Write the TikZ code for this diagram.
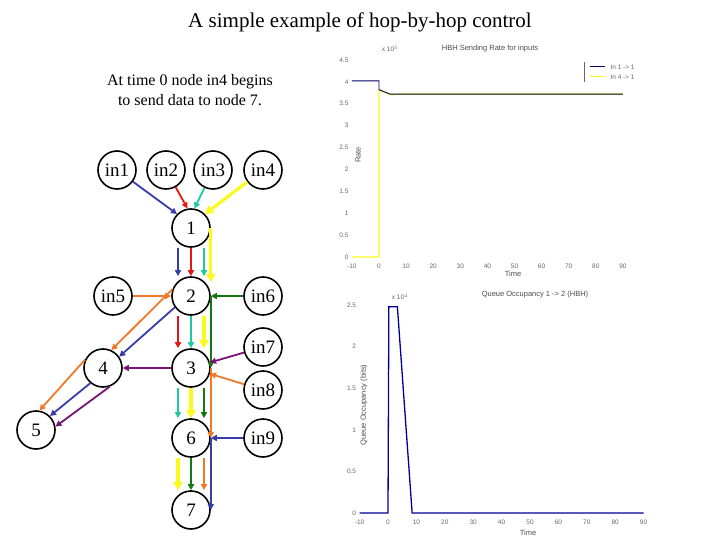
\documentclass[tikz,border=0pt]{standalone}
\usepackage{fontspec}
\setmainfont{Liberation Serif}
\setsansfont{Liberation Sans}
\usetikzlibrary{arrows.meta}
\begin{document}
\begin{tikzpicture}[x=1pt,y=-1pt,
nd/.style = {draw,circle,line width=1.6pt,minimum size=38pt,inner sep=0pt,font=\fontsize{19}{19}\selectfont},
edge/.style = {line width=1.8pt,-{Triangle[length=6pt,width=6pt]}},
fat/.style = {edge,line width=3.2pt,-{Triangle[length=8pt,width=9pt]}},
tick/.style = {font=\sffamily\fontsize{6.5}{6.5}\selectfont,text=black!60},
lbl/.style = {font=\sffamily\fontsize{7.5}{7.5}\selectfont,text=black!70}
]
\useasboundingbox (0,0) rectangle (720,540);
\definecolor{cblue}{RGB}{55,60,170}
\definecolor{cred}{RGB}{230,20,20}
\definecolor{cteal}{RGB}{30,200,160}
\definecolor{cyel}{RGB}{250,250,30}
\definecolor{corange}{RGB}{240,120,40}
\definecolor{cgreen}{RGB}{20,120,20}
\definecolor{cpurple}{RGB}{120,20,120}

\node[font=\fontsize{21}{21}\selectfont] (title) at (360,22) {A simple example of hop-by-hop control};
\node[font=\fontsize{16}{20}\selectfont,align=center] (note) at (190,90) {At time 0 node in4 begins\\to send data to node 7.};

\node[nd] (in1) at (117,170) {in1};
\node[nd] (in2) at (166,170) {in2};
\node[nd] (in3) at (213,170) {in3};
\node[nd] (in4) at (263,170) {in4};
\node[nd] (n1) at (191,228) {1};
\node[nd] (in5) at (113,296) {in5};
\node[nd] (n2) at (191,296) {2};
\node[nd] (in6) at (263,296) {in6};
\node[nd] (n4) at (103,368) {4};
\node[nd] (n3) at (191,368) {3};
\node[nd] (in7) at (263,347) {in7};
\node[nd] (in8) at (263,390) {in8};
\node[nd] (n5) at (36,430) {5};
\node[nd] (n6) at (191,438) {6};
\node[nd] (in9) at (263,438) {in9};
\node[nd] (n7) at (191,510) {7};

% inputs to 1
\draw[edge,cblue] (in1) -- (n1.135);
\draw[edge,cred] (in2) -- (n1.100);
\draw[edge,cteal] (in3) -- (n1.80);
\draw[fat,cyel] (in4) -- (n1.45);
% 1 to 2
\draw[edge,cblue] ([xshift=-13pt]n1.south) -- ([xshift=-13pt]n2.north);
\draw[edge,cred] (n1) -- (n2);
\draw[edge,cteal] ([xshift=13pt]n1.south) -- ([xshift=13pt]n2.north);
\draw[fat,cyel] (n1.east) -- (n1.east |- n2.north east);
% into 2
\draw[edge,corange] (in5) -- (n2);
\draw[edge,cgreen] (in6) -- (n2);
% 2 to 4
\draw[edge,corange] (n2.160) -- (n4.65);
\draw[edge,cblue] (n2.215) -- (n4.35);
% 2 to 3
\draw[edge,cred] ([xshift=-13pt]n2.south) -- ([xshift=-13pt]n3.north);
\draw[edge,cteal] (n2) -- (n3);
\draw[fat,cyel] ([xshift=13pt]n2.south) -- ([xshift=13pt]n3.north);
\draw[edge,cgreen] (n2.east) -- (n3.east);
% into 3
\draw[edge,cpurple] (in7) -- (n3);
\draw[edge,corange] (in8) -- (n3);
\draw[edge,cpurple] (n3) -- (n4);
% 3 to 6
\draw[edge,cteal] ([xshift=-13pt]n3.south) -- ([xshift=-13pt]n6.north);
\draw[fat,cyel] (n3) -- (n6);
\draw[edge,cgreen] ([xshift=13pt]n3.south) -- ([xshift=13pt]n6.north);
\draw[edge,corange] (n3.east) -- (n6.east);
\draw[edge,cblue] (in9) -- (n6);
% 6 to 7
\draw[fat,cyel] ([xshift=-13pt]n6.south) -- ([xshift=-13pt]n7.north);
\draw[edge,cgreen] (n6) -- (n7);
\draw[edge,corange] ([xshift=13pt]n6.south) -- ([xshift=13pt]n7.north);
\draw[edge,cblue] (n6.east) -- (n7.east);
% 4 to 5
\draw[edge,corange] (n4.155) -- (n5.80);
\draw[edge,cblue] (n4.230) -- (n5.45);
\draw[edge,cpurple] (n4.290) -- (n5.10);

% sending rate plot
\node[lbl] (rtitle) at (490,49) {HBH Sending Rate for inputs};
\node[lbl,rotate=90] (rlabel) at (358,155) {Rate};
\node[lbl] (rtime) at (513,274) {Time};
\node[tick] (rexp) at (390,49) {x 10$^5$};
\begin{scope}[shift={(379,257)},xscale=2.71,yscale=-43.8]
  \foreach \t in {-10,0,...,90} \node[tick] at (\t,-0.22) {\t};
  \foreach \v in {0,0.5,1,1.5,2,2.5,3,3.5,4,4.5} \node[tick,anchor=east] at (-10,\v) {\v};
  \draw[cyel,line width=1.4pt] (-10,0) -- (0,0) -- (0,3.82) -- (3,3.74) -- (5,3.7) -- (7,3.72) -- (90,3.72);
  \draw[blue!40!black,line width=0.9pt] (-10,4.02) -- (0,4.02) -- (0,3.82) -- (4,3.72) -- (90,3.72);
\end{scope}
\draw[black!60] (584,62) -- (584,82);
\draw[blue!40!black,line width=1pt] (590,67) -- (605,67);
\draw[cyel,line width=1pt] (590,77) -- (605,77);
\node[tick,anchor=west] (leg1) at (607,67) {In 1 -> 1};
\node[tick,anchor=west] (leg2) at (607,77) {In 4 -> 1};

% queue occupancy plot
\node[lbl] (qtitle) at (535,295) {Queue Occupancy 1 -> 2 (HBH)};
\node[lbl,rotate=90] (qlabel) at (364,405) {Queue Occupancy (bits)};
\node[lbl] (qtime) at (528,533) {Time};
\node[tick] (qexp) at (400,297) {x 10$^4$};
\begin{scope}[shift={(388,513)},xscale=2.84,yscale=-83.2]
  \foreach \t in {-10,0,...,90} \node[tick] at (\t,-0.11) {\t};
  \foreach \v in {0,0.5,1,1.5,2,2.5} \node[tick,anchor=east] at (-10,\v) {\v};
  \draw[blue!60!black,line width=1.3pt] (-10,0) -- (0,0) -- (0.3,2.48) -- (3.3,2.48) -- (8.5,0) -- (90,0);
\end{scope}
\end{tikzpicture}
\end{document}
